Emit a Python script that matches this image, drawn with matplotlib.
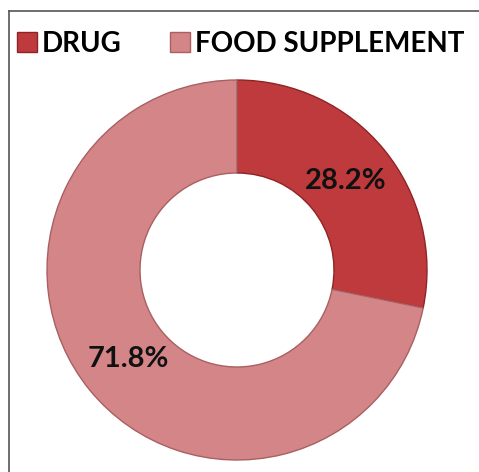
import matplotlib.pyplot as plt
from matplotlib.lines import Line2D

# Data
categories = ["DRUG", "FOOD SUPPLEMENT"]
shares = [28.2, 71.8]
colors = ["#bf3a3c", "#d48587"]
edge_colors = ["#8e2426", "#a86062"]

W, H = 479, 472
fig = plt.figure(figsize=(W / 100, H / 100), dpi=100)
ax = fig.add_axes([0, 0, 1, 1])

# Frame: only the left and top edges show in the crop
fig.lines.append(Line2D([8.5 / W, 8.5 / W], [0, 1 - 11 / H], transform=fig.transFigure,
                        color="#555555", linewidth=1.2))
fig.lines.append(Line2D([8.5 / W, 1], [1 - 11 / H, 1 - 11 / H], transform=fig.transFigure,
                        color="#555555", linewidth=1.2))

wedges, texts, autotexts = ax.pie(
    shares, colors=colors, startangle=90, counterclock=False,
    center=(237, 202), radius=190, frame=True,
    autopct="%.1f%%", pctdistance=0.74,
    wedgeprops=dict(width=93, linewidth=1.0),
    textprops=dict(fontsize=21, fontweight="bold", color="#111111",
                   family=["Lato", "DejaVu Sans"]),
)
for w, ec in zip(wedges, edge_colors):
    w.set_edgecolor(ec)
ax.set_xlim(0, W)
ax.set_ylim(0, H)
ax.set_aspect("equal")
ax.axis("off")

leg = ax.legend(wedges, categories, loc="upper left",
                bbox_to_anchor=(17 / W, 1 - 31 / H), ncol=2, frameon=False,
                handlelength=0.72, handleheight=0.72, handletextpad=0.18,
                columnspacing=1.72, borderaxespad=0, borderpad=0,
                prop=dict(size=20, weight="bold", family=["Lato", "DejaVu Sans"]))

plt.savefig("out.png", dpi=100)
